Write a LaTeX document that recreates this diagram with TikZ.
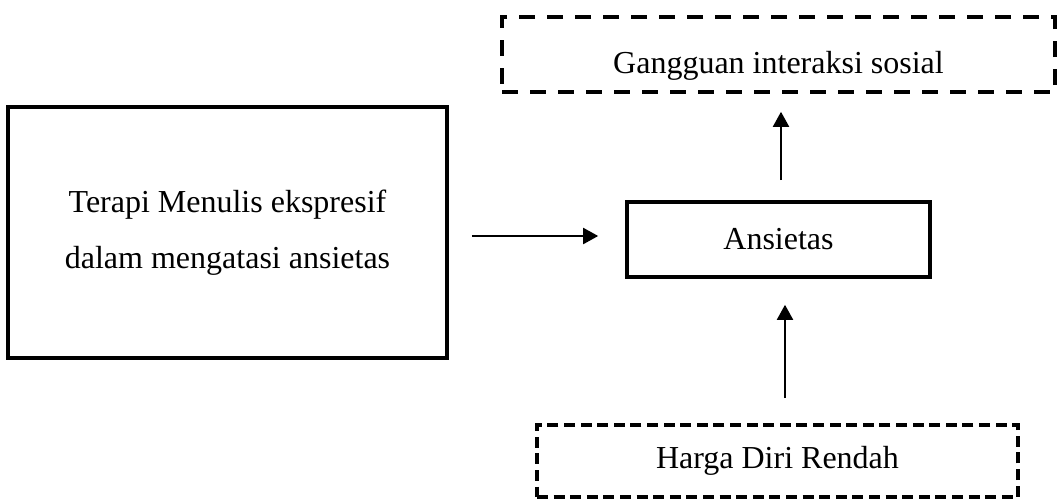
\documentclass[tikz,border=0pt]{standalone}
\usepackage{fontspec}
\setmainfont{Liberation Serif}
\usetikzlibrary{arrows.meta}
\begin{document}
\begin{tikzpicture}[x=0.5pt,y=-0.5pt,
  solidbox/.style={draw=black, line width=1.8pt, inner sep=0pt, align=center,
    font=\fontsize{16}{28}\selectfont},
  dashbigbox/.style={draw=black, line width=1.8pt, inner sep=0pt, align=center,
    dash pattern=on 8pt off 6pt, font=\fontsize{16}{28}\selectfont},
  dashsmallbox/.style={draw=black, line width=1.8pt, inner sep=0pt, align=center,
    dash pattern=on 5.5pt off 2.8pt, font=\fontsize{16}{28}\selectfont},
  arr/.style={line width=1pt, -{Triangle[length=7.5pt,width=8pt]}}]
\useasboundingbox (0,0) rectangle (1057,499);
\node[solidbox, minimum width=219.5pt, minimum height=125.5pt] (L) at (227.5,232.5)
  {Terapi Menulis ekspresif\\dalam mengatasi ansietas};
\node[solidbox, minimum width=151.5pt, minimum height=37.5pt] (A) at (778.5,239.5) {Ansietas};
\node[dashbigbox, minimum width=276.5pt, minimum height=37.5pt, text height=19pt, text depth=0pt] (G) at (778.5,54.5) {Gangguan interaksi sosial};
\node[dashsmallbox, minimum width=240.5pt, minimum height=36pt] (H) at (777.5,461) {Harga Diri Rendah};
\draw[arr] ([xshift=11.5pt,yshift=-1.75pt]L.east) -- ([xshift=-13.5pt,yshift=-1.75pt]L.east -| A.west);
\draw[arr] ([xshift=1.25pt,yshift=10pt]A.north) -- ([xshift=1.25pt,yshift=-9pt]A.north |- G.south);
\draw[arr] ([xshift=3.25pt,yshift=12.5pt]A.north |- H.north) -- ([xshift=3.25pt,yshift=-13pt]A.south);
\end{tikzpicture}
\end{document}
